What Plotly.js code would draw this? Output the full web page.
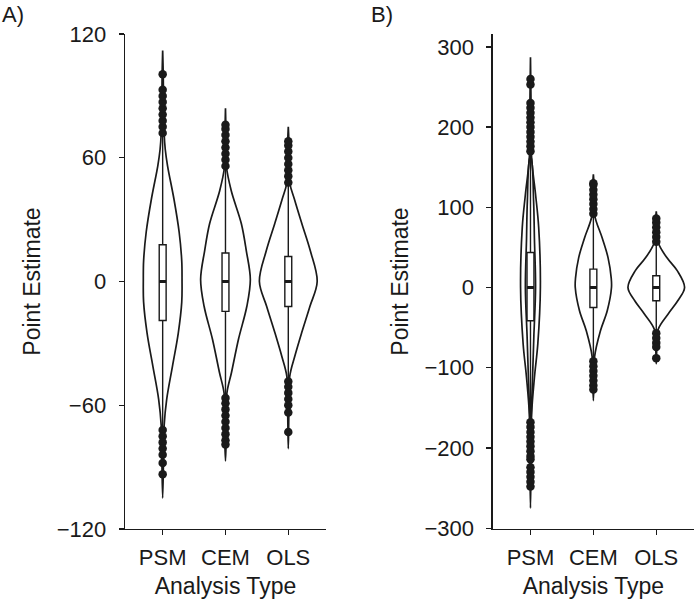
<!DOCTYPE html>
<html>
<head>
<meta charset="utf-8">
<script src="https://cdn.plot.ly/plotly-3.0.1.min.js"></script>
<style>
  html, body { margin: 0; padding: 0; background: #fff; }
  #chart { width: 694px; height: 601px; }
</style>
</head>
<body>
<div id="chart"></div>
<script>
// ---------- DATA ----------
const categories = ["PSM", "CEM", "OLS"];

// Panel A: box statistics
const boxA_q1     = [-18.9, -14.5, -12.1];
const boxA_median = [0, 0, 0];
const boxA_q3     = [17.8, 13.8, 12.1];
const boxA_lower  = [-72, -56.5, -48.5];
const boxA_upper  = [72, 56, 48];

// Panel A: outliers
const outA_PSM = [72, 75, 78, 81, 84, 87, 90, 93, 100.5, -72, -75, -78, -81, -84, -88, -93.5];
const outA_CEM = [56, 59, 62, 65, 68, 71, 74, 76, -56.5, -59, -62, -65, -68, -71, -74, -77, -79];
const outA_OLS = [48, 51, 54, 57, 60, 63, 66, 68, -48.5, -51, -54, -57, -60, -63.5, -73];

// Panel A: violin density profiles (relative density at each y)
const vioA_PSM_y = [-105, -85, -70, -57, -41, -25, -10, 1, 10, 24, 40, 56, 64, 72, 85, 100, 112];
const vioA_PSM_d = [0, 0.03, 0.05, 0.14, 0.34, 0.54, 0.66, 0.67, 0.66, 0.57, 0.39, 0.17, 0.09, 0.05, 0.03, 0.02, 0];
const vioA_CEM_y = [-87, -79, -66, -54, -44, -28, -12, 1, 15, 28, 44, 56, 70, 84];
const vioA_CEM_d = [0, 0.02, 0.03, 0.05, 0.21, 0.45, 0.74, 0.86, 0.72, 0.55, 0.2, 0.03, 0.02, 0];
const vioA_OLS_y = [-81, -64, -46, -36, -25, -12, 0, 15, 28, 40, 48, 68, 75];
const vioA_OLS_d = [0, 0.02, 0.05, 0.23, 0.46, 0.75, 1, 0.76, 0.47, 0.21, 0.05, 0.02, 0];

// Panel B: box statistics
const boxB_q1     = [-41.5, -24.9, -16.5];
const boxB_median = [0, 0, 0];
const boxB_q3     = [43.6, 22.9, 14.6];
const boxB_lower  = [-168, -91, -56];
const boxB_upper  = [170, 91, 57];

// Panel B: outliers
const outB_PSM = [170, 176, 182, 188, 194, 200, 206, 212, 218, 224, 230, 253, 260,
                  -168, -174, -180, -186, -192, -198, -204, -210, -214, -224, -230, -236, -242, -248];
const outB_CEM = [92, 98, 104, 110, 116, 122, 128, 130, -92, -98, -104, -110, -116, -122, -127];
const outB_OLS = [57, 63, 69, 75, 81, 86, -57, -63, -69, -74, -88];

// Panel B: violin density profiles
const vioB_PSM_y = [-275, -220, -158, -112, -70, 0, 75, 116, 162, 230, 287];
const vioB_PSM_d = [0, 0.02, 0.04, 0.14, 0.26, 0.35, 0.29, 0.18, 0.04, 0.02, 0];
const vioB_PSM_inner_y = [-166, -116, -60, 0, 60, 108, 162];
const vioB_PSM_inner_d = [0.02, 0.07, 0.12, 0.18, 0.14, 0.11, 0.02];
const vioB_CEM_y = [-141, -120, -87, -54, -29, 0, 12, 37, 62, 91, 130, 141];
const vioB_CEM_d = [0, 0.02, 0.04, 0.25, 0.49, 0.64, 0.63, 0.52, 0.31, 0.04, 0.02, 0];
const vioB_OLS_y = [-95, -75, -52, -33, -16.5, 0, 21, 37, 56, 87, 95];
const vioB_OLS_d = [0, 0.02, 0.07, 0.42, 0.76, 1, 0.74, 0.38, 0.07, 0.02, 0];

// ---------- STYLE ----------
const INK = "#1a1a1a";
const FONT = "Liberation Sans, Arial, sans-serif";
const MAXW_A = 0.46, MAXW_B = 0.45;
const BOXW = 0.11;

const traces = [];

function violin(pos, ys, ds, maxW, xa, ya) {
  const xs = [], yy = [];
  for (let i = 0; i < ys.length; i++) { xs.push(pos - ds[i] * maxW); yy.push(ys[i]); }
  for (let i = ys.length - 1; i >= 0; i--) { xs.push(pos + ds[i] * maxW); yy.push(ys[i]); }
  traces.push({
    type: "scatter", mode: "lines", x: xs, y: yy, xaxis: xa, yaxis: ya,
    line: { color: INK, width: 1.7, shape: "spline", smoothing: 1 },
    hoverinfo: "skip", showlegend: false
  });
}

function box(pos, q1, med, q3, lo, hi, xa, ya) {
  traces.push({
    type: "box", x: [pos], q1: [q1], median: [med], q3: [q3],
    lowerfence: [lo], upperfence: [hi], xaxis: xa, yaxis: ya,
    width: BOXW, whiskerwidth: 0, boxpoints: false,
    fillcolor: "#ffffff", line: { color: INK, width: 1.4 },
    showlegend: false, hoverinfo: "skip"
  });
  traces.push({
    type: "scatter", mode: "lines", x: [pos - BOXW / 2, pos + BOXW / 2], y: [med, med],
    xaxis: xa, yaxis: ya, line: { color: INK, width: 3 }, showlegend: false, hoverinfo: "skip"
  });
}

function outliers(pos, vals, xa, ya) {
  traces.push({
    type: "scatter", mode: "markers", x: vals.map(() => pos), y: vals,
    xaxis: xa, yaxis: ya, marker: { color: INK, size: 8.5 },
    showlegend: false, hoverinfo: "skip"
  });
}

// Panel A
const vA = [[vioA_PSM_y, vioA_PSM_d], [vioA_CEM_y, vioA_CEM_d], [vioA_OLS_y, vioA_OLS_d]];
const oA = [outA_PSM, outA_CEM, outA_OLS];
categories.forEach((c, i) => {
  violin(i + 1, vA[i][0], vA[i][1], MAXW_A, "x", "y");
  outliers(i + 1, oA[i], "x", "y");
  box(i + 1, boxA_q1[i], boxA_median[i], boxA_q3[i], boxA_lower[i], boxA_upper[i], "x", "y");
});

// Panel B
const vB = [[vioB_PSM_y, vioB_PSM_d], [vioB_CEM_y, vioB_CEM_d], [vioB_OLS_y, vioB_OLS_d]];
const oB = [outB_PSM, outB_CEM, outB_OLS];
violin(1, vioB_PSM_inner_y, vioB_PSM_inner_d, MAXW_B, "x2", "y2");
categories.forEach((c, i) => {
  violin(i + 1, vB[i][0], vB[i][1], MAXW_B, "x2", "y2");
  outliers(i + 1, oB[i], "x2", "y2");
  box(i + 1, boxB_q1[i], boxB_median[i], boxB_q3[i], boxB_lower[i], boxB_upper[i], "x2", "y2");
});

const tickFont = { family: FONT, size: 22, color: INK };
const titleFont = { family: FONT, size: 23, color: INK };
function xAxis(domain, anchor) {
  return {
    domain: domain, anchor: anchor, range: [0.4, 3.6],
    tickmode: "array", tickvals: [1, 2, 3], ticktext: categories,
    showline: true, linecolor: INK, linewidth: 1.4,
    ticks: "outside", ticklen: 5, tickwidth: 1.3, tickcolor: INK,
    showgrid: false, zeroline: false, tickfont: tickFont, ticklabelstandoff: 3,
    title: { text: "Analysis Type", font: titleFont, standoff: 9 }
  };
}
function yAxis(range, tickvals, anchor) {
  return {
    domain: [0.1198, 0.9434], anchor: anchor, range: range,
    tickmode: "array", tickvals: tickvals,
    showline: true, linecolor: INK, linewidth: 1.4,
    ticks: "outside", ticklen: 5, tickwidth: 1.3, tickcolor: INK,
    showgrid: false, zeroline: false, tickfont: tickFont, ticklabelstandoff: 8,
    title: { text: "Point Estimate", font: titleFont, standoff: 9 }
  };
}

const layout = {
  width: 694, height: 601,
  margin: { l: 0, r: 0, t: 0, b: 0 },
  paper_bgcolor: "#ffffff", plot_bgcolor: "#ffffff",
  showlegend: false,
  xaxis: xAxis([0.1801, 0.4697], "y"),
  yaxis: yAxis([-120, 120], [-120, -60, 0, 60, 120], "x"),
  xaxis2: xAxis([0.710, 1.0], "y2"),
  yaxis2: yAxis([-301, 316], [-300, -200, -100, 0, 100, 200, 300], "x2"),
  annotations: [
    { text: "A)", xref: "paper", yref: "paper", x: 0, y: 1 - 15 / 601, xanchor: "left", yanchor: "middle",
      showarrow: false, font: tickFont },
    { text: "B)", xref: "paper", yref: "paper", x: 369 / 694, y: 1 - 15 / 601, xanchor: "left", yanchor: "middle",
      showarrow: false, font: tickFont }
  ]
};

Plotly.newPlot("chart", traces, layout, { displayModeBar: false, staticPlot: true });
</script>
</body>
</html>
